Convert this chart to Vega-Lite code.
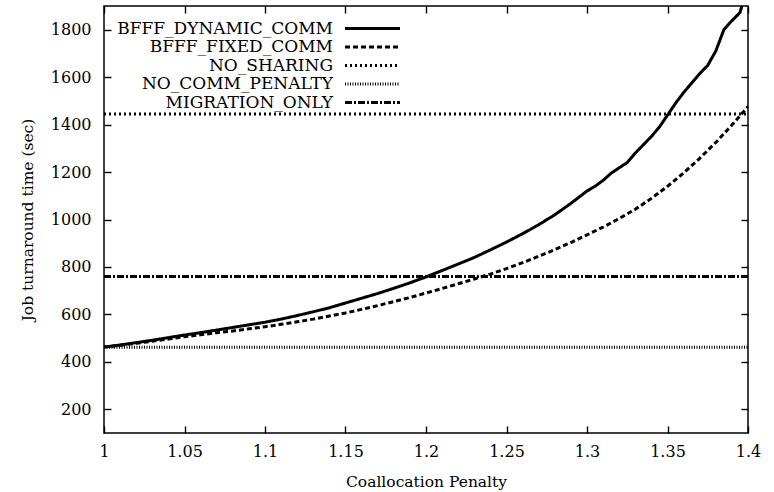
{
  "$schema": "https://vega.github.io/schema/vega-lite/v6.json",
  "width": 644,
  "height": 427,
  "autosize": {"type": "none"},
  "padding": {"left": 104, "top": 6, "right": 26, "bottom": 59},
  "background": "white",
  "config": {
    "font": "DejaVu Serif",
    "view": {"stroke": "black", "strokeWidth": 1.5},
    "axis": {
      "grid": false, "domain": false, "labelFlush": false,
      "labelFont": "DejaVu Serif", "labelFontSize": 16, "labelColor": "black",
      "titleFont": "DejaVu Serif", "titleFontSize": 15.5, "titleFontWeight": "normal", "titleColor": "black",
      "ticks": true, "tickColor": "black", "tickOpacity": 1, "tickSize": 7, "tickWidth": 1.4, "offset": -7
    },
    "legend": {
      "orient": "none", "legendX": 260, "legendY": 14,
      "labelAlign": "right", "labelOffset": -48, "labelLimit": 400,
      "labelFont": "DejaVu Serif", "labelFontSize": 17, "labelColor": "black",
      "symbolType": "M-5,0H5", "symbolSize": 121, "symbolStrokeColor": "black",
      "rowPadding": 0.5, "padding": 0
    }
  },
  "data": {"values": [
    {"series": "BFFF_DYNAMIC_COMM", "x": 1.00, "y": 462},
    {"series": "BFFF_DYNAMIC_COMM", "x": 1.01, "y": 471},
    {"series": "BFFF_DYNAMIC_COMM", "x": 1.02, "y": 481},
    {"series": "BFFF_DYNAMIC_COMM", "x": 1.03, "y": 491},
    {"series": "BFFF_DYNAMIC_COMM", "x": 1.04, "y": 502},
    {"series": "BFFF_DYNAMIC_COMM", "x": 1.05, "y": 513},
    {"series": "BFFF_DYNAMIC_COMM", "x": 1.06, "y": 523},
    {"series": "BFFF_DYNAMIC_COMM", "x": 1.07, "y": 534},
    {"series": "BFFF_DYNAMIC_COMM", "x": 1.08, "y": 545},
    {"series": "BFFF_DYNAMIC_COMM", "x": 1.09, "y": 556},
    {"series": "BFFF_DYNAMIC_COMM", "x": 1.10, "y": 567},
    {"series": "BFFF_DYNAMIC_COMM", "x": 1.11, "y": 580},
    {"series": "BFFF_DYNAMIC_COMM", "x": 1.12, "y": 595},
    {"series": "BFFF_DYNAMIC_COMM", "x": 1.13, "y": 611},
    {"series": "BFFF_DYNAMIC_COMM", "x": 1.14, "y": 628},
    {"series": "BFFF_DYNAMIC_COMM", "x": 1.15, "y": 648},
    {"series": "BFFF_DYNAMIC_COMM", "x": 1.16, "y": 668},
    {"series": "BFFF_DYNAMIC_COMM", "x": 1.17, "y": 688},
    {"series": "BFFF_DYNAMIC_COMM", "x": 1.18, "y": 710},
    {"series": "BFFF_DYNAMIC_COMM", "x": 1.19, "y": 733},
    {"series": "BFFF_DYNAMIC_COMM", "x": 1.20, "y": 758},
    {"series": "BFFF_DYNAMIC_COMM", "x": 1.21, "y": 785},
    {"series": "BFFF_DYNAMIC_COMM", "x": 1.22, "y": 812},
    {"series": "BFFF_DYNAMIC_COMM", "x": 1.23, "y": 840},
    {"series": "BFFF_DYNAMIC_COMM", "x": 1.24, "y": 872},
    {"series": "BFFF_DYNAMIC_COMM", "x": 1.25, "y": 905},
    {"series": "BFFF_DYNAMIC_COMM", "x": 1.26, "y": 940},
    {"series": "BFFF_DYNAMIC_COMM", "x": 1.27, "y": 978},
    {"series": "BFFF_DYNAMIC_COMM", "x": 1.28, "y": 1020},
    {"series": "BFFF_DYNAMIC_COMM", "x": 1.29, "y": 1068},
    {"series": "BFFF_DYNAMIC_COMM", "x": 1.30, "y": 1120},
    {"series": "BFFF_DYNAMIC_COMM", "x": 1.305, "y": 1140},
    {"series": "BFFF_DYNAMIC_COMM", "x": 1.31, "y": 1165},
    {"series": "BFFF_DYNAMIC_COMM", "x": 1.315, "y": 1195},
    {"series": "BFFF_DYNAMIC_COMM", "x": 1.32, "y": 1218},
    {"series": "BFFF_DYNAMIC_COMM", "x": 1.325, "y": 1240},
    {"series": "BFFF_DYNAMIC_COMM", "x": 1.33, "y": 1280},
    {"series": "BFFF_DYNAMIC_COMM", "x": 1.335, "y": 1315},
    {"series": "BFFF_DYNAMIC_COMM", "x": 1.34, "y": 1350},
    {"series": "BFFF_DYNAMIC_COMM", "x": 1.345, "y": 1390},
    {"series": "BFFF_DYNAMIC_COMM", "x": 1.35, "y": 1440},
    {"series": "BFFF_DYNAMIC_COMM", "x": 1.355, "y": 1490},
    {"series": "BFFF_DYNAMIC_COMM", "x": 1.36, "y": 1535},
    {"series": "BFFF_DYNAMIC_COMM", "x": 1.365, "y": 1575},
    {"series": "BFFF_DYNAMIC_COMM", "x": 1.37, "y": 1615},
    {"series": "BFFF_DYNAMIC_COMM", "x": 1.375, "y": 1650},
    {"series": "BFFF_DYNAMIC_COMM", "x": 1.38, "y": 1710},
    {"series": "BFFF_DYNAMIC_COMM", "x": 1.385, "y": 1800},
    {"series": "BFFF_DYNAMIC_COMM", "x": 1.39, "y": 1838},
    {"series": "BFFF_DYNAMIC_COMM", "x": 1.395, "y": 1872},
    {"series": "BFFF_DYNAMIC_COMM", "x": 1.40, "y": 1990},
    {"series": "BFFF_FIXED_COMM", "x": 1.00, "y": 462},
    {"series": "BFFF_FIXED_COMM", "x": 1.01, "y": 470},
    {"series": "BFFF_FIXED_COMM", "x": 1.02, "y": 478},
    {"series": "BFFF_FIXED_COMM", "x": 1.03, "y": 487},
    {"series": "BFFF_FIXED_COMM", "x": 1.04, "y": 496},
    {"series": "BFFF_FIXED_COMM", "x": 1.05, "y": 506},
    {"series": "BFFF_FIXED_COMM", "x": 1.06, "y": 514},
    {"series": "BFFF_FIXED_COMM", "x": 1.07, "y": 523},
    {"series": "BFFF_FIXED_COMM", "x": 1.08, "y": 530},
    {"series": "BFFF_FIXED_COMM", "x": 1.09, "y": 539},
    {"series": "BFFF_FIXED_COMM", "x": 1.10, "y": 548},
    {"series": "BFFF_FIXED_COMM", "x": 1.11, "y": 558},
    {"series": "BFFF_FIXED_COMM", "x": 1.12, "y": 569},
    {"series": "BFFF_FIXED_COMM", "x": 1.13, "y": 580},
    {"series": "BFFF_FIXED_COMM", "x": 1.14, "y": 593},
    {"series": "BFFF_FIXED_COMM", "x": 1.15, "y": 606},
    {"series": "BFFF_FIXED_COMM", "x": 1.16, "y": 621},
    {"series": "BFFF_FIXED_COMM", "x": 1.17, "y": 637},
    {"series": "BFFF_FIXED_COMM", "x": 1.18, "y": 654},
    {"series": "BFFF_FIXED_COMM", "x": 1.19, "y": 671},
    {"series": "BFFF_FIXED_COMM", "x": 1.20, "y": 690},
    {"series": "BFFF_FIXED_COMM", "x": 1.21, "y": 709},
    {"series": "BFFF_FIXED_COMM", "x": 1.22, "y": 729},
    {"series": "BFFF_FIXED_COMM", "x": 1.23, "y": 749},
    {"series": "BFFF_FIXED_COMM", "x": 1.24, "y": 770},
    {"series": "BFFF_FIXED_COMM", "x": 1.25, "y": 793},
    {"series": "BFFF_FIXED_COMM", "x": 1.26, "y": 818},
    {"series": "BFFF_FIXED_COMM", "x": 1.27, "y": 845},
    {"series": "BFFF_FIXED_COMM", "x": 1.28, "y": 873},
    {"series": "BFFF_FIXED_COMM", "x": 1.29, "y": 903},
    {"series": "BFFF_FIXED_COMM", "x": 1.30, "y": 935},
    {"series": "BFFF_FIXED_COMM", "x": 1.31, "y": 968},
    {"series": "BFFF_FIXED_COMM", "x": 1.32, "y": 1004},
    {"series": "BFFF_FIXED_COMM", "x": 1.33, "y": 1043},
    {"series": "BFFF_FIXED_COMM", "x": 1.34, "y": 1089},
    {"series": "BFFF_FIXED_COMM", "x": 1.35, "y": 1140},
    {"series": "BFFF_FIXED_COMM", "x": 1.36, "y": 1196},
    {"series": "BFFF_FIXED_COMM", "x": 1.37, "y": 1258},
    {"series": "BFFF_FIXED_COMM", "x": 1.38, "y": 1325},
    {"series": "BFFF_FIXED_COMM", "x": 1.39, "y": 1398},
    {"series": "BFFF_FIXED_COMM", "x": 1.40, "y": 1476},
    {"series": "NO_SHARING", "x": 1.0, "y": 1445},
    {"series": "NO_SHARING", "x": 1.4, "y": 1445},
    {"series": "NO_COMM_PENALTY", "x": 1.0, "y": 462},
    {"series": "NO_COMM_PENALTY", "x": 1.4, "y": 462},
    {"series": "MIGRATION_ONLY", "x": 1.0, "y": 760},
    {"series": "MIGRATION_ONLY", "x": 1.4, "y": 760}
  ]},
  "layer": [
    {
      "mark": {"type": "line", "clip": true, "color": "black", "strokeCap": "butt"},
      "encoding": {
        "x": {"field": "x", "type": "quantitative",
          "scale": {"domain": [1, 1.4], "nice": false, "zero": false},
          "axis": {"title": "Coallocation Penalty", "values": [1, 1.05, 1.1, 1.15, 1.2, 1.25, 1.3, 1.35, 1.4], "format": "~g", "labelPadding": 10, "titlePadding": 15}},
        "y": {"field": "y", "type": "quantitative",
          "scale": {"domain": [100, 1900], "nice": false, "zero": false},
          "axis": {"title": "Job turnaround time (sec)", "values": [200, 400, 600, 800, 1000, 1200, 1400, 1600, 1800], "format": "d", "labelPadding": 13, "titlePadding": 15}},
        "strokeDash": {"field": "series", "type": "nominal",
          "scale": {"domain": ["BFFF_DYNAMIC_COMM", "BFFF_FIXED_COMM", "NO_SHARING", "NO_COMM_PENALTY", "MIGRATION_ONLY"],
                    "range": [[1, 0], [5, 3], [2, 3], [1, 1.5], [7, 2, 2, 2]]},
          "legend": {"title": null}},
        "strokeWidth": {"field": "series", "type": "nominal",
          "scale": {"domain": ["BFFF_DYNAMIC_COMM", "BFFF_FIXED_COMM", "NO_SHARING", "NO_COMM_PENALTY", "MIGRATION_ONLY"],
                    "range": [3, 3, 2.5, 1.5, 2]},
          "legend": {"title": null}}
      }
    },
    {
      "mark": {"type": "point", "opacity": 0},
      "encoding": {
        "x": {"field": "x", "type": "quantitative",
          "axis": {"orient": "top", "labels": false, "title": null, "values": [1, 1.05, 1.1, 1.15, 1.2, 1.25, 1.3, 1.35, 1.4]}},
        "y": {"field": "y", "type": "quantitative",
          "axis": {"orient": "right", "labels": false, "title": null, "values": [200, 400, 600, 800, 1000, 1200, 1400, 1600, 1800]}}
      }
    }
  ],
  "resolve": {"axis": {"x": "independent", "y": "independent"}}
}
